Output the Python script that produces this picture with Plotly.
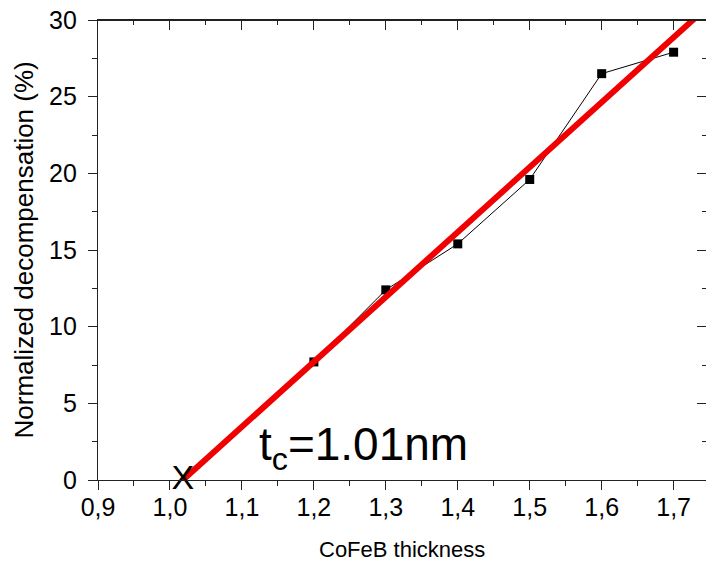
import plotly.graph_objects as go

# Data
thickness = [1.2, 1.3, 1.4, 1.5, 1.6, 1.7]
decompensation = [7.7, 12.4, 15.4, 19.6, 26.5, 27.9]

# Linear fit line (end points)
fit_x = [1.018, 1.748]
fit_y = [0.0, 30.9]

# Critical thickness marker
tc_x = [1.018]
tc_y = [0.0]

x_range = [0.9, 1.745]
y_range = [0, 30]

FONT = "Arial, Liberation Sans, sans-serif"
AX = "#222222"

fig = go.Figure()
fig.add_trace(go.Scatter(
    x=thickness, y=decompensation, mode="lines+markers",
    line=dict(color="black", width=1),
    marker=dict(symbol="square", size=9, color="black"),
    showlegend=False, hoverinfo="skip"))
fig.add_trace(go.Scatter(
    x=fit_x, y=fit_y, mode="lines",
    line=dict(color="#f00000", width=6),
    showlegend=False, hoverinfo="skip"))
fig.add_trace(go.Scatter(
    x=tc_x, y=tc_y, mode="text", text=["X"],
    textfont=dict(family=FONT, size=34, color="black"),
    textposition="middle center", cliponaxis=False,
    showlegend=False, hoverinfo="skip"))
# invisible trace so the mirrored (top / right) axes get drawn
fig.add_trace(go.Scatter(
    x=[1.3], y=[15], xaxis="x2", yaxis="y2", mode="markers",
    marker=dict(opacity=0, size=1), showlegend=False, hoverinfo="skip"))

common = dict(showgrid=False, zeroline=False, tickcolor=AX, tickwidth=1.3)

fig.update_layout(
    width=709, height=562,
    margin=dict(l=98, r=0, t=20, b=82),
    paper_bgcolor="white", plot_bgcolor="white",
    separators=",.",
    font=dict(family=FONT, color="black"),
    xaxis=dict(range=x_range, tick0=0.9, dtick=0.1, tickformat=".1f",
               ticks="outside", ticklen=9, showline=True, mirror=True,
               linecolor=AX, linewidth=1.3,
               tickfont=dict(size=25, color="black"), ticklabelstandoff=-4,
               minor=dict(dtick=0.05, tick0=0.9, ticks="outside", ticklen=5,
                          tickcolor=AX, tickwidth=1.3),
               **common),
    yaxis=dict(range=y_range, tick0=0, dtick=5,
               ticks="outside", ticklen=9, showline=True, linecolor=AX, linewidth=1.3,
               tickfont=dict(size=25, color="black"), ticklabelstandoff=6,
               minor=dict(dtick=2.5, tick0=0, ticks="outside", ticklen=5,
                          tickcolor=AX, tickwidth=1.3),
               **common),
    xaxis2=dict(range=x_range, overlaying="x", side="top", anchor="free", position=1.0,
                tick0=0.9, dtick=0.1, ticks="inside", ticklen=9,
                tickfont=dict(size=1, color="rgba(0,0,0,0)"),
                showline=True, linecolor=AX, linewidth=1.3,
                minor=dict(dtick=0.05, tick0=0.9, ticks="inside", ticklen=4,
                           tickcolor=AX, tickwidth=1.3),
                **common),
    yaxis2=dict(range=y_range, overlaying="y", side="right", anchor="free", position=1.0,
                tick0=0, dtick=5, ticks="inside", ticklen=9,
                tickfont=dict(size=1, color="rgba(0,0,0,0)"),
                showline=False,
                minor=dict(dtick=2.5, tick0=0, ticks="inside", ticklen=4,
                           tickcolor=AX, tickwidth=1.3),
                **common),
    shapes=[
        dict(type="line", xref="paper", yref="paper", x0=0, x1=1, y0=1, y1=1,
             line=dict(color=AX, width=1.3), layer="above"),
    ],
    annotations=[
        dict(text="CoFeB thickness", xref="paper", yref="paper", x=0.5, y=-0.15,
             xanchor="center", yanchor="middle", showarrow=False,
             font=dict(size=22, family=FONT, color="black")),
        dict(text="Normalized decompensation (%)", xref="paper", yref="paper",
             x=-0.121, y=0.5, xanchor="center", yanchor="middle", textangle=-90,
             showarrow=False, font=dict(size=26, family=FONT, color="black")),
        dict(text="t<sub>c</sub>=1.01nm", xref="x", yref="y", x=1.1214, y=2.14,
             xanchor="left", yanchor="middle", showarrow=False,
             font=dict(size=46, family=FONT, color="black")),
    ],
)

fig.write_html("out.html", config={"displayModeBar": False},
               post_script="document.body.style.margin='0';document.body.style.overflow='hidden';")
